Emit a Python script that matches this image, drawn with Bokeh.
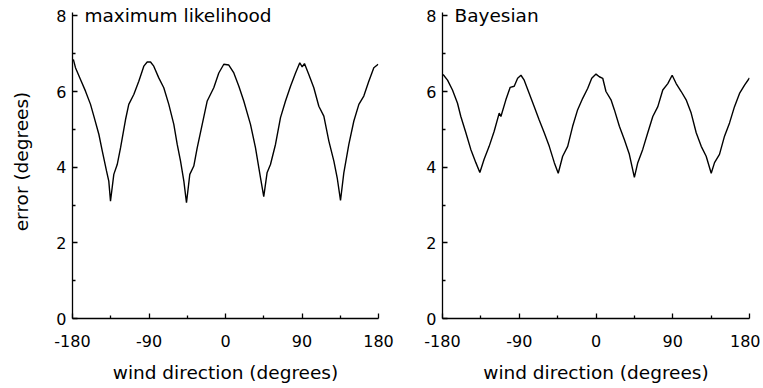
from bokeh.plotting import figure
from bokeh.layouts import row
from bokeh.models import FixedTicker, Label, Range1d
from bokeh.embed import file_html
from bokeh.resources import INLINE

# ---- data ----
ml_dir = [-179, -176.5, -170.6, -164.7, -158.8, -154.9, -149, -145, -140, -137.3, -135.3,
          -131.4, -127.4, -123.5, -117.6, -113.8, -107.9, -102, -96.1, -92.1, -88.2, -84.4,
          -78.5, -72.6, -66.7, -60.8, -56.8, -52.9, -49, -45.9, -42, -37.3, -33.3, -27.4,
          -21.5, -13.8, -7.9, -2, 3.9, 9.8, 15.7, 21.5, 29.4, 35.3, 41.2, 45, 48.9, 52.9,
          58.8, 64.7, 70.6, 76.5, 82.4, 87.4, 90.2, 92.9, 98, 103.9, 109.8, 115.7, 121.6,
          127.5, 131.4, 135.3, 139.2, 145.1, 151, 156.9, 162.7, 168.6, 174.5, 179.6]
ml_err = [6.85, 6.63, 6.32, 6.01, 5.66, 5.35, 4.87, 4.43, 3.90, 3.63, 3.10,
          3.81, 4.07, 4.51, 5.26, 5.66, 5.92, 6.27, 6.67, 6.78, 6.78, 6.67,
          6.36, 6.10, 5.66, 5.13, 4.60, 4.16, 3.63, 3.06, 3.81, 4.03, 4.51, 5.13,
          5.75, 6.10, 6.49, 6.72, 6.70, 6.49, 6.14, 5.75, 5.13, 4.51, 3.72, 3.22, 3.85, 4.07,
          4.60, 5.31, 5.75, 6.14, 6.49, 6.76, 6.65, 6.74, 6.45, 6.10, 5.61, 5.35, 4.69,
          4.16, 3.72, 3.12, 3.85, 4.60, 5.22, 5.66, 5.88, 6.27, 6.63, 6.72]

bayes_dir = [-179.3, -174.1, -168.3, -162.4, -158.5, -152.6, -146.8, -140.9, -136.2, -131.2,
             -125.3, -119.4, -113.5, -111.5, -105.7, -100.6, -95.9, -91.9, -88, -84.2, -78.3,
             -72.4, -66.6, -60.7, -54.8, -48.9, -44.3, -39.1, -33.2, -27.4, -21.5, -15.6, -9.8,
             -5.0, 0, 3.9, 7.9, 11.7, 17.6, 21.5, 27.4, 33.2, 39.1, 45, 49, 54.8, 60.7, 66.6,
             72.5, 78.3, 84.2, 89.3, 94, 99.9, 105.7, 111.6, 117.5, 123.4, 129.2, 135.1, 139,
             144.8, 150.7, 156.6, 162.4, 168.3, 174.2, 180]
bayes_err = [6.45, 6.30, 6.04, 5.69, 5.34, 4.91, 4.47, 4.12, 3.86, 4.21,
             4.55, 4.95, 5.43, 5.34, 5.78, 6.11, 6.14, 6.35, 6.43, 6.30, 5.95,
             5.60, 5.25, 4.91, 4.55, 4.12, 3.84, 4.29, 4.55, 5.08, 5.52, 5.82, 6.08,
             6.35, 6.46, 6.39, 6.35, 6.00, 5.78, 5.52, 5.08, 4.73, 4.34, 3.73, 4.12, 4.47, 4.91, 5.34,
             5.60, 6.04, 6.21, 6.43, 6.21, 6.00, 5.78, 5.43, 4.91, 4.55, 4.29, 3.84, 4.12,
             4.34, 4.82, 5.17, 5.60, 5.95, 6.17, 6.36]

x_ticks = [-180, -90, 0, 90, 180]
x_minor = [-135, -45, 45, 135]
y_ticks = [0, 2, 4, 6, 8]
y_minor = [1, 3, 5, 7]

titles = ["maximum likelihood", "Bayesian"]
x_label = "wind direction (degrees)"
y_label = "error (degrees)"

FONT = "DejaVu Sans"


def make_panel(width, bl, br, bt, bb, xs, ys, title, ylab):
    p = figure(width=width, height=386, x_range=Range1d(-180, 180), y_range=Range1d(0, 8.3),
               output_backend="svg", toolbar_location=None,
               min_border_left=bl, min_border_right=br, min_border_top=bt, min_border_bottom=bb)
    p.outline_line_color = None
    p.grid.visible = False
    p.background_fill_color = "white"
    p.border_fill_color = "white"

    p.xaxis.ticker = FixedTicker(ticks=x_ticks, minor_ticks=x_minor)
    p.yaxis.ticker = FixedTicker(ticks=y_ticks, minor_ticks=y_minor)
    p.yaxis.bounds = (0, 8.08)
    for ax in (p.xaxis, p.yaxis):
        ax.major_tick_in = 5
        ax.major_tick_out = 0
        ax.minor_tick_in = 3
        ax.minor_tick_out = 0
        ax.axis_line_width = 1.3
        ax.major_tick_line_width = 1.3
        ax.minor_tick_line_width = 1.3
        ax.axis_line_color = "black"
        ax.major_tick_line_color = "black"
        ax.minor_tick_line_color = "black"
        ax.major_label_text_font = FONT
        ax.major_label_text_font_size = "16px"
        ax.major_label_text_color = "black"
        ax.axis_label_text_font = FONT
        ax.axis_label_text_font_size = "18.5px"
        ax.axis_label_text_font_style = "normal"
        ax.axis_label_text_color = "black"
    p.xaxis.major_label_overrides = {t: str(t) for t in x_ticks}
    p.xaxis.major_label_standoff = 16
    p.xaxis.axis_label = x_label
    p.xaxis.axis_label_standoff = 12
    p.yaxis.major_label_standoff = 6
    if ylab:
        p.yaxis.axis_label = ylab
        p.yaxis.axis_label_standoff = 21

    p.line(xs, ys, line_color="black", line_width=1.4)

    p.add_layout(Label(x=-166, y=8, text=title, text_baseline="middle", text_align="left",
                       text_font=FONT, text_font_size="18.5px", text_color="black"))
    return p


# left panel: value 8 at y=15, 0 at y=318 ; right panel: 8 at y=15, 0 at y=320
p1 = make_panel(400, 72, 22, 4, 68, ml_dir, ml_err, titles[0], y_label)
p2 = make_panel(360, 42, 11, 4, 66, bayes_dir, bayes_err, titles[1], None)

layout = row(p1, p2)
open("out.html", "w").write(file_html(layout, INLINE))
